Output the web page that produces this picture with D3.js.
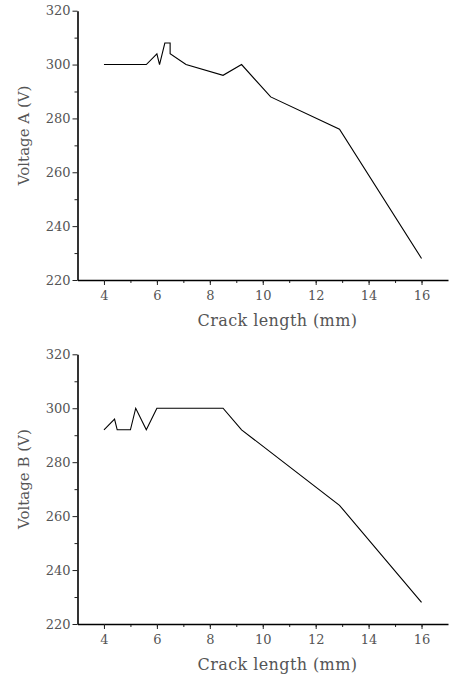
<!DOCTYPE html>
<html>
<head>
<meta charset="utf-8">
<script src="https://cdn.jsdelivr.net/npm/d3@7"></script>
<style>
  body { margin: 0; background: #fff; }
  svg text { font-family: "DejaVu Serif", serif; fill: #555; }
</style>
</head>
<body>
<div id="chart"></div>
<script>
// crack length (mm) for each series
const crackA = [4, 5.6, 6, 6.1, 6.3, 6.5, 6.5, 7.1, 8.5, 9.2, 10.3, 12.9, 16];
const voltA  = [300, 300, 304, 300, 308, 308, 304, 300, 296, 300, 288, 276, 228];
const crackB = [4, 4.4, 4.5, 5, 5.2, 5.6, 6, 8.5, 9.2, 12.9, 16];
const voltB  = [292, 296, 292, 292, 300, 292, 300, 300, 292, 264, 228];
const xTicks = [4, 6, 8, 10, 12, 14, 16];
const yTicks = [220, 240, 260, 280, 300, 320];

const width = 449;
const height = 675;

const svg = d3.select('#chart')
    .append('svg')
    .attr('width', width)
    .attr('height', height);

const x = d3.scaleLinear().domain([3, 17]).range([77.5, 448]);

const panels = [
    { xs: crackA, ys: voltA, label: 'Voltage A (V)', top: 10.7, bottom: 280 },
    { xs: crackB, ys: voltB, label: 'Voltage B (V)', top: 354.3, bottom: 624 }
];

panels.forEach(function(p) {
    const y = d3.scaleLinear().domain([220, 320]).range([p.bottom, p.top]);
    const g = svg.append('g');

    // minor ticks
    g.append('g')
        .attr('transform', 'translate(0,' + p.bottom + ')')
        .call(d3.axisBottom(x).tickValues(d3.range(4, 17, 1)).tickSize(3).tickFormat(''))
        .call(function(a) { a.select('.domain').remove(); });
    g.append('g')
        .attr('transform', 'translate(' + x(3) + ',0)')
        .call(d3.axisLeft(y).tickValues(d3.range(230, 320, 20)).tickSize(3).tickFormat(''))
        .call(function(a) { a.select('.domain').remove(); });

    const xa = g.append('g')
        .attr('transform', 'translate(0,' + p.bottom + ')')
        .call(d3.axisBottom(x).tickValues(xTicks).tickSizeInner(5).tickSizeOuter(0).tickPadding(6));
    xa.selectAll('text').attr('font-size', 13).attr('font-family', 'DejaVu Serif').style('fill', '#555');

    const ya = g.append('g')
        .attr('transform', 'translate(' + x(3) + ',0)')
        .call(d3.axisLeft(y).tickValues(yTicks).tickSizeInner(5).tickSizeOuter(0).tickPadding(2));
    ya.selectAll('text').attr('font-size', 13).attr('font-family', 'DejaVu Serif').style('fill', '#555');

    g.selectAll('.domain').attr('stroke', '#000').attr('stroke-width', 1.6);
    g.selectAll('.tick line').attr('stroke', '#222').attr('stroke-width', 1);

    const pts = d3.zip(p.xs, p.ys);
    g.append('path')
        .datum(pts)
        .attr('fill', 'none')
        .attr('stroke', '#000')
        .attr('stroke-width', 1.1)
        .attr('d', d3.line().x(function(d) { return x(d[0]); }).y(function(d) { return y(d[1]); }));

    g.append('text')
        .attr('x', 277.5)
        .attr('y', p.bottom + 46)
        .attr('text-anchor', 'middle')
        .attr('font-size', 16)
        .attr('letter-spacing', 0.4)
        .text('Crack length (mm)');

    g.append('text')
        .attr('transform', 'translate(29,' + ((p.top + p.bottom) / 2 - 10) + ') rotate(-90)')
        .attr('text-anchor', 'middle')
        .attr('font-size', 15)
        .text(p.label);
});
</script>
</body>
</html>
